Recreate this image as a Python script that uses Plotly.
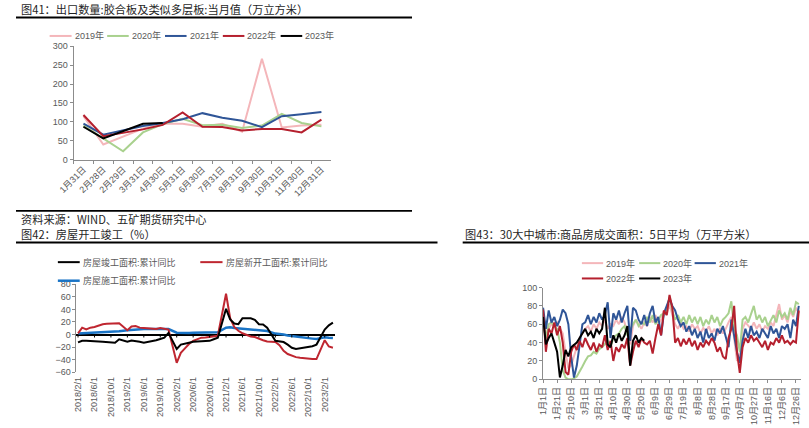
import plotly.graph_objects as go

W, H = 809, 428


def px(x):
    return x / W


def py(y):
    return 1 - y / H


# ---------------- Fig 41 data ----------------
cats41 = ["1月31日", "2月28日", "2月29日", "3月31日", "4月30日", "5月31日", "6月30日",
          "7月31日", "8月31日", "9月30日", "10月31日", "11月30日", "12月31日"]
exp2019 = [115, 40, None, 82, 95, 95, 87, 95, 74, 267, 85, 90, 92]
exp2020 = [90, None, 22, 72, 94, 108, 91, 92, 84, 90, 121, 97, 88]
exp2021 = [95, 66, None, 89, 97, 107, 123, 111, 103, 86, 115, 120, 126]
exp2022 = [118, 62, None, 80, 92, 125, 87, 86, 77, 81, 81, 72, 106]
exp2023 = [87, 56, None, 95, 97, None, None, None, None, None, None, None, None]
names41 = ["2019年", "2020年", "2021年", "2022年", "2023年"]
colors_year = ["#f4b6ba", "#a9d18e", "#2f5597", "#b5202e", "#000000"]

# ---------------- Fig 42 data ----------------
all_months = [f"{y}/{m}/1" for y in range(2018, 2024) for m in range(1, 13)]
months42 = all_months[1:64]  # 2018/2/1 ... 2023/4/1
completed = [-12.5, -10, -10, -10, -10.5, -11, -11.5, -12, -12.5, -13, -7.5, None,
             -11.5, -9.5, -10, -11.5, -13, -12, -10.5, -9, -7, -5, 2.6, None,
             -23, -16, -14, -13, -11.5, -11, -10.5, -11, -10, -7.5, -5, None,
             41, 24, 17.5, 16.5, 26, 26, 26, 23.5, 16.5, 16, 11, None,
             -10, -11, -12, -16, -21, -23, -22, -20, -19, -18.5, -16, None,
             8, 14.7, 19]
new_start = [2, 11, 8, 11, 12, 14, 16.5, 17, 17, 17.5, 18, None,
             7, 13, 13.5, 11, 10.5, 10, 9.5, 9, 10.5, 9, 8, None,
             -45, -29, -22, -15, -10, -7, -5, -4.7, -4, -3.5, -2, None,
             65, 26, 12, 6, 2, -1, -3, -4, -7, -9, -11, None,
             -12, -17, -26, -31, -34, -36, -37, -38, -38, -39, -39, None,
             -9, -19, -21]
under_constr = [1.5, 1.8, 2, 2.3, 2.7, 3, 3.4, 3.8, 4.2, 4.6, 5.2, None,
                6.8, 7.5, 8.2, 8.5, 8.7, 8.8, 8.8, 8.7, 8.7, 8.7, 8.7, None,
                3, 2.5, 2.5, 2.6, 2.8, 3, 3.2, 3.3, 3.4, 3.5, 3.7, None,
                11, 11.5, 10.5, 10, 9.5, 9, 8.5, 8, 7, 6.5, 5.5, None,
                1.5, 1, 0, -1.5, -2.5, -3.5, -4.3, -5, -5.7, -6.5, -7.2, None,
                -4.4, -5.2, -5.6]
tick42 = months42[::4]

# ---------------- Fig 43 data (every 4th day) ----------------
d2019 = [72, 40, 55, 60, 58, 62, 55, 50, 30, 12, 15, 25, 35, 45, 50, 55, 58, 52, 60, 55,
         62, 58, 65, 55, 60, 58, 65, 60, 68, 62, 50, 38, 58, 65, 60, 55, 62, 58, 68, 62,
         70, 60, 65, 75, 70, 82, 70, 60, 55, 62, 55, 58, 52, 60, 55, 58, 50, 56, 52, 58,
         50, 55, 48, 56, 50, 55, 62, 68, 45, 20, 25, 55, 62, 58, 55, 62, 55, 60, 52, 58,
         55, 62, 58, 70, 82, 65, 70, 62, 75, 68, 78, 72]
d2020 = [62, 45, 60, 62, 58, 55, 40, 10, 2, 0, 0, 1, 3, 8, 14, 20, 25, 26, 30, 28,
         33, 35, 38, 42, 35, 45, 48, 50, 55, 58, 48, 55, 60, 65, 58, 62, 60, 68, 62, 70,
         60, 65, 70, 72, 75, 90, 75, 65, 70, 62, 68, 60, 70, 62, 68, 60, 68, 58, 65, 60,
         70, 62, 68, 58, 65, 68, 72, 85, 55, 48, 30, 65, 68, 62, 72, 80, 65, 70, 62, 68,
         58, 65, 70, 62, 75, 68, 72, 65, 78, 70, 84, 82]
d2021 = [78, 55, 75, 62, 68, 58, 65, 76, 72, 60, 25, 2, 15, 40, 60, 62, 70, 60, 68, 62,
         72, 65, 70, 84, 45, 72, 65, 75, 62, 72, 80, 42, 78, 75, 65, 60, 70, 58, 72, 80,
         62, 68, 48, 72, 80, 88, 80, 75, 65, 58, 62, 52, 58, 48, 55, 45, 52, 40, 55, 45,
         50, 42, 55, 50, 58, 45, 35, 65, 45, 30, 18, 42, 55, 45, 58, 48, 52, 45, 55, 50,
         45, 58, 50, 55, 45, 58, 55, 60, 45, 65, 58, 80]
d2022 = [76, 30, 55, 50, 62, 48, 58, 40, 8, 5, 30, 38, 32, 42, 35, 45, 38, 32, 40, 30,
         38, 35, 48, 32, 42, 20, 35, 30, 38, 34, 45, 15, 30, 42, 35, 45, 40, 38, 42, 28,
         45, 60, 48, 75, 70, 92, 78, 40, 45, 36, 44, 38, 45, 36, 42, 32, 40, 35, 42, 38,
         45, 40, 30, 35, 25, 22, 45, 55, 80, 30, 7, 35, 45, 40, 48, 42, 45, 40, 35, 42,
         32, 40, 38, 45, 40, 48, 40, 42, 38, 42, 40, 75]
d2023 = [68, 38, 45, 50, 40, 30, 2, 15, 32, 25, 35, 38, 40, 45, 50, 55, 48, 52, 45, 55,
         50, 55, 78, 38, 35, 48, 40, 50, 42, 48, 58, 15, 42, 48, 40, 45, 42]
ticktext43 = ["1月1日", "1月21日", "2月10日", "3月1日", "3月21日", "4月10日", "4月30日",
              "5月20日", "6月9日", "6月29日", "7月19日", "8月8日", "8月28日", "9月17日",
              "10月7日", "10月27日", "11月16日", "12月6日", "12月26日"]
tickvals43 = [20 * i for i in range(len(ticktext43))]

FONT = "Liberation Sans, Noto Sans CJK SC, sans-serif"
CJK = "Noto Sans CJK SC, sans-serif"
AX = "#8c8c8c"
TXT = "#595959"

fig = go.Figure()

# Fig 41 traces
for vals, nm, c in zip([exp2019, exp2020, exp2021, exp2022, exp2023], names41, colors_year):
    fig.add_trace(go.Scatter(x=cats41, y=vals, mode="lines", name=nm, connectgaps=True,
                             line=dict(color=c, width=2), xaxis="x", yaxis="y", showlegend=False))

# Fig 42 traces
fig.add_trace(go.Scatter(x=months42, y=under_constr, mode="lines", name="房屋施工面积:累计同比",
                         connectgaps=True, line=dict(color="#1a74c6", width=2.5),
                         xaxis="x2", yaxis="y2", showlegend=False))
fig.add_trace(go.Scatter(x=months42, y=new_start, mode="lines", name="房屋新开工面积:累计同比",
                         connectgaps=True, line=dict(color="#bf2630", width=2),
                         xaxis="x2", yaxis="y2", showlegend=False))
fig.add_trace(go.Scatter(x=months42, y=completed, mode="lines", name="房屋竣工面积:累计同比",
                         connectgaps=True, line=dict(color="#000000", width=2),
                         xaxis="x2", yaxis="y2", showlegend=False))

# Fig 43 traces
for vals, nm, c in zip([d2019, d2020, d2021, d2022, d2023], names41, colors_year):
    days = [4 * i for i in range(len(vals))]
    fig.add_trace(go.Scatter(x=days, y=vals, mode="lines", name=nm,
                             line=dict(color=c, width=2), xaxis="x3", yaxis="y3", showlegend=False))

axis_common = dict(showgrid=False, zeroline=False, linecolor=AX, tickcolor=AX, ticklen=3,
                   tickfont=dict(family=FONT, size=9, color=TXT), showline=True, ticks="outside")

fig.update_layout(
    width=W, height=H, margin=dict(l=0, r=0, t=0, b=0),
    paper_bgcolor="white", plot_bgcolor="white", showlegend=False,
    xaxis=dict(axis_common, type="category", domain=[px(58.7), px(321.7)], range=[-0.5, 12.5],
               tickson="boundaries", tickangle=-45, anchor="y"),
    yaxis=dict(axis_common, domain=[py(158.3), py(42.3)], range=[0, 300], dtick=50, anchor="x"),
    xaxis2=dict(axis_common, type="category", domain=[px(61.7), px(325)], range=[-0.38, 62.4],
                showline=False, ticks="", tickvals=tick42, tickangle=-90, anchor="y2",
                ticklabelstandoff=2),
    yaxis2=dict(axis_common, domain=[py(376), py(286)], range=[-60, 80], dtick=20, anchor="x2",
                zeroline=True, zerolinecolor="#000000", zerolinewidth=1.5),
    xaxis3=dict(axis_common, domain=[px(537.7), px(801.3)], range=[0, 367.8],
                tickvals=tickvals43, ticktext=ticktext43, tickangle=-90, anchor="y3"),
    yaxis3=dict(axis_common, domain=[py(383.3), py(289.3)], range=[0, 100], dtick=20, anchor="x3"),
)

shapes = []
annotations = []

# zero-line tick marks for fig 42
for t in tick42:
    shapes.append(dict(type="line", xref="x2", yref="y2", x0=t, x1=t, y0=0, y1=-4.7,
                       line=dict(color="#000000", width=1)))

# rule lines
for (x0, x1, y, w) in [(0, 404, 12.7, 2), (0, 404, 210.8, 1.6), (0, 430, 243.3, 2), (455.7, 809, 243.3, 2)]:
    shapes.append(dict(type="line", xref="paper", yref="paper", x0=px(x0), x1=px(x1),
                       y0=py(y), y1=py(y), line=dict(color="#000000", width=w)))


def text(x, y, s, size, color="#1f1f1f"):
    annotations.append(dict(text=s, x=px(x), y=py(y), xref="paper", yref="paper",
                            xanchor="left", yanchor="middle", showarrow=False, borderpad=0,
                            align="left", font=dict(family=CJK, size=size, color=color)))


def legend_item(x0, x1, y, color, s, width=2, size=9):
    shapes.append(dict(type="line", xref="paper", yref="paper", x0=px(x0), x1=px(x1),
                       y0=py(y), y1=py(y), line=dict(color=color, width=width)))
    annotations.append(dict(text=s, x=px(x1 + 1), y=py(y), xref="paper", yref="paper",
                            xanchor="left", yanchor="middle", showarrow=False,
                            font=dict(family=FONT, size=size, color=TXT)))


text(4, 4, "图41：出口数量:胶合板及类似多层板:当月值（万立方米）", 11.2)
text(4, 227.3, "资料来源：WIND、五矿期货研究中心<br>图42：房屋开工竣工（%）", 11.2)
text(457, 234, "图43：30大中城市:商品房成交面积：5日平均（万平方米）", 11.2)

# legend fig 41
leg41_x = [(34.3, 56.7), (93, 115), (152, 174), (211, 233), (270, 292)]
for (a, b), nm, c in zip(leg41_x, names41, colors_year):
    legend_item(a, b, 31.7, c, nm)

# legend fig 42
legend_item(42.7, 65, 263.3, "#000000", "房屋竣工面积:累计同比", size=9)
legend_item(188, 210.7, 263.3, "#bf2630", "房屋新开工面积:累计同比", size=9)
legend_item(42.7, 65, 282.3, "#1a74c6", "房屋施工面积:累计同比", width=2.5, size=9)

# legend fig 43
leg43 = [(577.3, 599, 264.3), (635.7, 657.3, 264.3), (692.3, 714, 264.3),
         (577.3, 599, 280), (635.7, 657.3, 280)]
for (a, b, y), nm, c in zip(leg43, names41, colors_year):
    legend_item(a, b, y, c, nm)

fig.update_layout(shapes=shapes, annotations=annotations)
fig.write_html("out.html")
